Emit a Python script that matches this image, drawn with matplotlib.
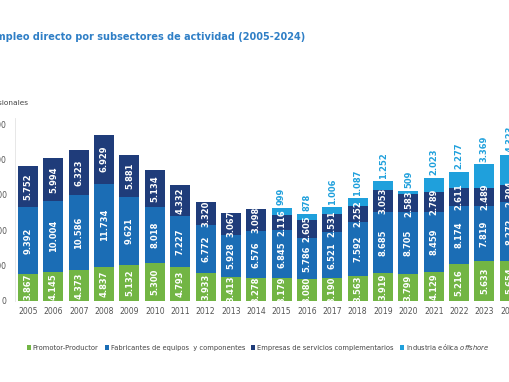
import numpy as np
import matplotlib
matplotlib.use('Agg')
import matplotlib.pyplot as plt

years = [str(y) for y in range(2005, 2025)]
promotor    = [3867, 4145, 4373, 4837, 5132, 5300, 4793, 3933, 3413, 3278,
               3179, 3080, 3190, 3563, 3919, 3799, 4129, 5216, 5633, 5654]
fabricantes = [9392, 10004, 10586, 11734, 9621, 8018, 7227, 6772, 5928, 6576,
               6845, 5786, 6521, 7592, 8685, 8705, 8459, 8174, 7819, 8272]
servicios   = [5752, 5994, 6323, 6929, 5881, 5134, 4332, 3320, 3067, 3098,
               2116, 2605, 2531, 2252, 3053, 2583, 2789, 2611, 2489, 2394]
offshore    = [0, 0, 0, 0, 0, 0, 0, 0, 0, 0,
               999, 878, 1006, 1087, 1252, 509, 2023, 2277, 3369, 4323]

series = [('Promotor-Productor', promotor, '#72b544'),
          ('Fabricantes de equipos  y componentes', fabricantes, '#1b6db5'),
          ('Empresas de servicios complementarios', servicios, '#1f3c7a'),
          (r'Industria eólica $\mathit{offshore}$', offshore, '#1fa0dc')]

W, H = 510, 382
fig = plt.figure(figsize=(W/100, H/100), dpi=100)

# axes placed in pixels; right part runs off the canvas like the cropped source
ax_l, ax_b, ax_t = 15, H - 301, H - 118
spacing = 25.36
x0 = -13/spacing
xw = W/spacing
ax = fig.add_axes([ax_l/W, ax_b/H, W/W, (ax_t - ax_b)/H])
ax.set_xlim(x0, x0 + xw)
ymax = 25000*(ax_t - ax_b)/177.0
ax.set_ylim(0, ymax)

X = np.arange(len(years))
bottom = np.zeros(len(years))
lab_font = ['Liberation Sans Narrow', 'DejaVu Sans']
for name, vals, col in series:
    vals = np.array(vals, dtype=float)
    ax.bar(X, vals, 0.79, bottom=bottom, color=col, label=name, zorder=2)
    for i, v in enumerate(vals):
        if v <= 0:
            continue
        txt = f'{int(v):,}'.replace(',', '.')
        if col == '#1fa0dc':
            ax.text(X[i], bottom[i] + v + 350, txt, rotation=90, ha='center',
                    va='bottom', color=col, fontsize=6, fontweight='bold',
                    family=lab_font, clip_on=False)
        else:
            ax.text(X[i], bottom[i] + v/2, txt, rotation=90, ha='center',
                    va='center', color='white', fontsize=6, fontweight='bold',
                    family=lab_font)
    bottom += vals

ax.set_xticks(X)
ax.set_xticklabels(years)
ax.set_yticks(range(0, 25001, 5000))
ax.set_yticklabels([f'{v:,}'.replace(',', '.') for v in range(0, 25001, 5000)])
ax.tick_params(axis='both', length=0, labelsize=5.6, colors='#555555')
ax.tick_params(axis='y', pad=6)
ax.tick_params(axis='x', pad=4)
for s in ['top', 'right', 'bottom']:
    ax.spines[s].set_visible(False)
ax.spines['left'].set_color('#e3e3e3')
ax.spines['left'].set_linewidth(0.6)

fig.text(305/W, 1 - 37/H, 'Empleo directo por subsectores de actividad (2005-2024)',
         ha='right', va='center', color='#2f7fc6', fontsize=7.0, fontweight='semibold')
fig.text(28/W, 1 - 103/H, 'Nº de profesionales', ha='right', va='center',
         color='#444444', fontsize=5.3)

fig.legend(loc='center', bbox_to_anchor=(258/W, 1 - 347/H), ncol=4, frameon=False,
           fontsize=4.85, handlelength=0.6, handleheight=0.6, handletextpad=0.3,
           columnspacing=0.9, labelcolor='#444444')

fig.savefig('out.png', dpi=100)
